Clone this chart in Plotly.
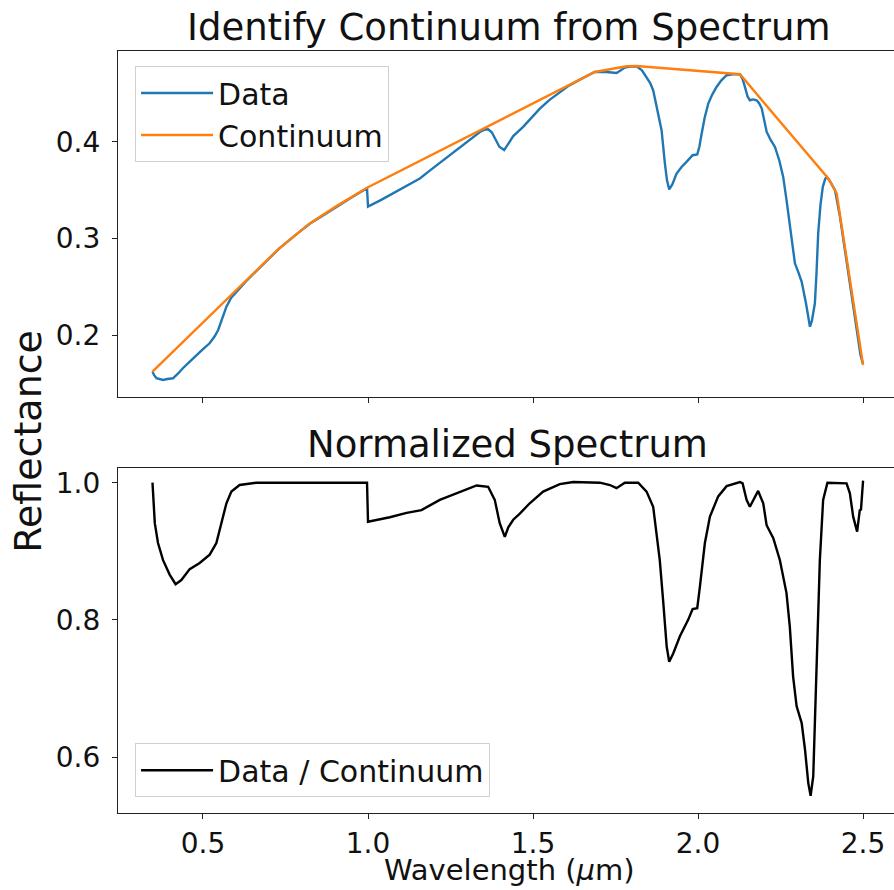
import plotly.graph_objects as go

# ---------------- data ----------------
wavelength = [0.347, 0.352, 0.359, 0.368, 0.379, 0.392, 0.409, 0.424, 0.439, 0.460,
              0.480, 0.500, 0.520, 0.535, 0.546, 0.558, 0.571, 0.585, 0.601, 0.630,
              0.662, 0.700, 0.7325, 0.780, 0.8234, 0.865, 0.9044, 0.950, 0.997, 1.000,
              1.040, 1.076, 1.117, 1.157, 1.190, 1.2275, 1.260, 1.288, 1.315, 1.339,
              1.355, 1.364, 1.375, 1.384, 1.398, 1.4125, 1.425, 1.440, 1.470, 1.495,
              1.5206, 1.550, 1.581, 1.610, 1.642, 1.665, 1.687, 1.7228, 1.740, 1.753,
              1.765, 1.778, 1.795, 1.8137, 1.830, 1.844, 1.855, 1.864, 1.872, 1.879,
              1.8895, 1.8995, 1.906, 1.9126, 1.922, 1.935, 1.950, 1.965, 1.9835, 1.9975,
              2.004, 2.011, 2.020, 2.031, 2.043, 2.056, 2.070, 2.0865, 2.105, 2.127,
              2.135, 2.142, 2.150, 2.157, 2.167, 2.1775, 2.185, 2.193, 2.200, 2.208,
              2.220, 2.233, 2.246, 2.258, 2.268, 2.278, 2.2865, 2.2935, 2.304, 2.314,
              2.327, 2.334, 2.339, 2.345, 2.350, 2.354, 2.359, 2.364, 2.371, 2.378,
              2.385, 2.390, 2.400, 2.415, 2.430, 2.445, 2.460, 2.473, 2.485, 2.492,
              2.499]
reflectance = [0.1622, 0.1585, 0.1553, 0.1545, 0.1536, 0.1545, 0.1553, 0.1600, 0.1657, 0.1725,
               0.1794, 0.1855, 0.1915, 0.1985, 0.2053, 0.2170, 0.2294, 0.2385, 0.2449, 0.2555,
               0.2664, 0.2795, 0.2900, 0.3035, 0.3152, 0.3242, 0.3330, 0.3425, 0.3520, 0.3330,
               0.3400, 0.3466, 0.3540, 0.3621, 0.3710, 0.3811, 0.3895, 0.3966, 0.4040, 0.4103,
               0.4128, 0.4131, 0.4100, 0.4035, 0.3950, 0.3915, 0.3980, 0.4060, 0.4155, 0.4250,
               0.4345, 0.4435, 0.4517, 0.4585, 0.4645, 0.4690, 0.4724, 0.4724, 0.4722, 0.4714,
               0.4740, 0.4769, 0.4780, 0.4783, 0.4740, 0.4672, 0.4610, 0.4535, 0.4400, 0.4259,
               0.4121, 0.3777, 0.3600, 0.3508, 0.3560, 0.3673, 0.3740, 0.3793, 0.3862, 0.3870,
               0.3950, 0.4087, 0.4250, 0.4397, 0.4490, 0.4569, 0.4635, 0.4690, 0.4700, 0.4700,
               0.4650, 0.4569, 0.4470, 0.4431, 0.4440, 0.4431, 0.4400, 0.4345, 0.4220, 0.4103,
               0.4020, 0.3948, 0.3810, 0.3638, 0.3400, 0.3121, 0.2900, 0.2743, 0.2650, 0.2552,
               0.2329, 0.2180, 0.2087, 0.2150, 0.2250, 0.2329, 0.2650, 0.3053, 0.3350, 0.3535,
               0.3615, 0.3638, 0.3590, 0.3501, 0.3224, 0.2880, 0.2536, 0.2220, 0.1915, 0.1800,
               0.1708]

continuum_wavelength = [0.347, 0.62, 0.73, 0.8234, 0.9044, 0.997, 1.687, 1.7834, 1.8137,
                        2.127, 2.3946, 2.420, 2.500]
continuum_reflectance = [0.1622, 0.2525, 0.2895, 0.3156, 0.3335, 0.3525, 0.4724, 0.4783, 0.4786,
                         0.4700, 0.3621, 0.3466, 0.1690]

norm_wavelength = [0.347, 0.350, 0.354, 0.3637, 0.379, 0.399, 0.417, 0.4345, 0.4597, 0.490,
                   0.5203, 0.5405, 0.5556, 0.571, 0.586, 0.611, 0.662, 0.750, 0.850, 0.950,
                   0.997, 1.000, 1.066, 1.117, 1.162, 1.2175, 1.278, 1.329, 1.364, 1.384,
                   1.399, 1.4145, 1.425, 1.440, 1.460, 1.490, 1.5306, 1.581, 1.622, 1.7025,
                   1.733, 1.753, 1.778, 1.8186, 1.844, 1.864, 1.874, 1.884, 1.894, 1.905,
                   1.9126, 1.9247, 1.945, 1.970, 1.9835, 1.9975, 2.0056, 2.0207, 2.036, 2.061,
                   2.0865, 2.127, 2.135, 2.147, 2.157, 2.172, 2.182, 2.1975, 2.2077, 2.228,
                   2.248, 2.268, 2.278, 2.288, 2.2987, 2.314, 2.324, 2.334, 2.341, 2.349,
                   2.359, 2.369, 2.379, 2.392, 2.450, 2.460, 2.470, 2.482, 2.490, 2.4937,
                   2.500]
norm_reflectance = [1.000, 0.965, 0.941, 0.912, 0.887, 0.866, 0.852, 0.858, 0.874, 0.883,
                    0.895, 0.912, 0.941, 0.970, 0.987, 0.9966, 1.000, 1.000, 1.000, 1.000,
                    1.000, 0.943, 0.9496, 0.956, 0.960, 0.975, 0.987, 0.996, 0.994, 0.975,
                    0.941, 0.921, 0.935, 0.946, 0.955, 0.970, 0.987, 0.998, 1.001, 1.000,
                    0.9966, 0.992, 1.000, 1.000, 0.987, 0.965, 0.926, 0.887, 0.829, 0.761,
                    0.739, 0.751, 0.776, 0.800, 0.8156, 0.817, 0.8485, 0.912, 0.9505, 0.980,
                    0.995, 1.001, 0.999, 0.975, 0.965, 0.980, 0.988, 0.970, 0.938, 0.919,
                    0.887, 0.839, 0.790, 0.7174, 0.674, 0.6495, 0.611, 0.562, 0.5436, 0.5717,
                    0.7174, 0.887, 0.975, 1.000, 0.999, 0.9846, 0.9505, 0.9286, 0.960, 0.961,
                    1.003]

top_title = "Identify Continuum from Spectrum"
bottom_title = "Normalized Spectrum"
x_label = "Wavelength (<i>μ</i>m)"
y_label = "Reflectance"
x_ticks = [0.5, 1.0, 1.5, 2.0, 2.5]
top_y_ticks = [0.2, 0.3, 0.4]
bottom_y_ticks = [0.6, 0.8, 1.0]

# ---------------- figure ----------------
FONT = "DejaVu Sans"
W, H = 894, 890
ML, MT, MB = 118, 51, 77

fig = go.Figure()
fig.add_trace(go.Scatter(x=wavelength, y=reflectance, mode="lines", name="Data",
                         line=dict(color="#1f77b4", width=2.4), xaxis="x", yaxis="y",
                         legend="legend"))
fig.add_trace(go.Scatter(x=continuum_wavelength, y=continuum_reflectance, mode="lines",
                         name="Continuum", line=dict(color="#ff7f0e", width=2.4),
                         xaxis="x", yaxis="y", legend="legend"))
fig.add_trace(go.Scatter(x=norm_wavelength, y=norm_reflectance, mode="lines",
                         name="Data / Continuum", line=dict(color="black", width=2.4),
                         xaxis="x2", yaxis="y2", legend="legend2"))

axis_common = dict(showline=True, linecolor="#222", linewidth=1.2, ticks="outside",
                   ticklen=5, tickwidth=1.2, tickcolor="#222", showgrid=False,
                   zeroline=False, tickfont=dict(family=FONT, size=28, color="#111"))

legend_common = dict(x=0.022, xanchor="left", bgcolor="rgba(255,255,255,0.8)",
                     bordercolor="#d0d0d0", borderwidth=1,
                     font=dict(family=FONT, size=30, color="#111"), itemwidth=72,
                     tracegroupgap=0)

xr = [0.2425, 2.5937]
fig.update_layout(
    width=W, height=H,
    margin=dict(l=ML, r=0, t=MT, b=MB, pad=0),
    paper_bgcolor="white", plot_bgcolor="white",
    font=dict(family=FONT, color="#111"),
    xaxis=dict(axis_common, domain=[0, 1], range=xr, tickvals=x_ticks,
               showticklabels=False, anchor="y", mirror=True),
    yaxis=dict(axis_common, domain=[0.5463, 1.0], range=[0.1362, 0.4941],
               tickvals=top_y_ticks, tickformat=".1f", anchor="x", ticklabelstandoff=6),
    xaxis2=dict(axis_common, domain=[0, 1], range=xr, tickvals=x_ticks, tickformat=".1f",
                anchor="y2", matches="x", mirror=True),
    yaxis2=dict(axis_common, domain=[0, 0.4531], range=[0.5184, 1.0218],
                tickvals=bottom_y_ticks, tickformat=".1f", anchor="x2", ticklabelstandoff=6),
    legend=dict(legend_common, y=0.9803, yanchor="top"),
    legend2=dict(legend_common, y=0.0206, yanchor="bottom"),
    showlegend=True,
    annotations=[
        dict(text=top_title, xref="paper", yref="paper", x=0.5032, y=1.0,
             xanchor="center", yanchor="bottom", showarrow=False,
             font=dict(family=FONT, size=37, color="#111")),
        dict(text=bottom_title, xref="paper", yref="paper", x=0.5019, y=0.4531,
             xanchor="center", yanchor="bottom", showarrow=False,
             font=dict(family=FONT, size=37, color="#111")),
        dict(text=y_label, xref="paper", yref="paper", x=-0.1162, y=0.4882,
             xanchor="center", yanchor="middle", textangle=-90, showarrow=False,
             font=dict(family=FONT, size=38, color="#111")),
        dict(text=x_label, xref="paper", yref="paper", x=0.5045, y=-0.0748,
             xanchor="center", yanchor="middle", showarrow=False,
             font=dict(family=FONT, size=29, color="#111")),
    ],
)

fig.write_html("out.html")
